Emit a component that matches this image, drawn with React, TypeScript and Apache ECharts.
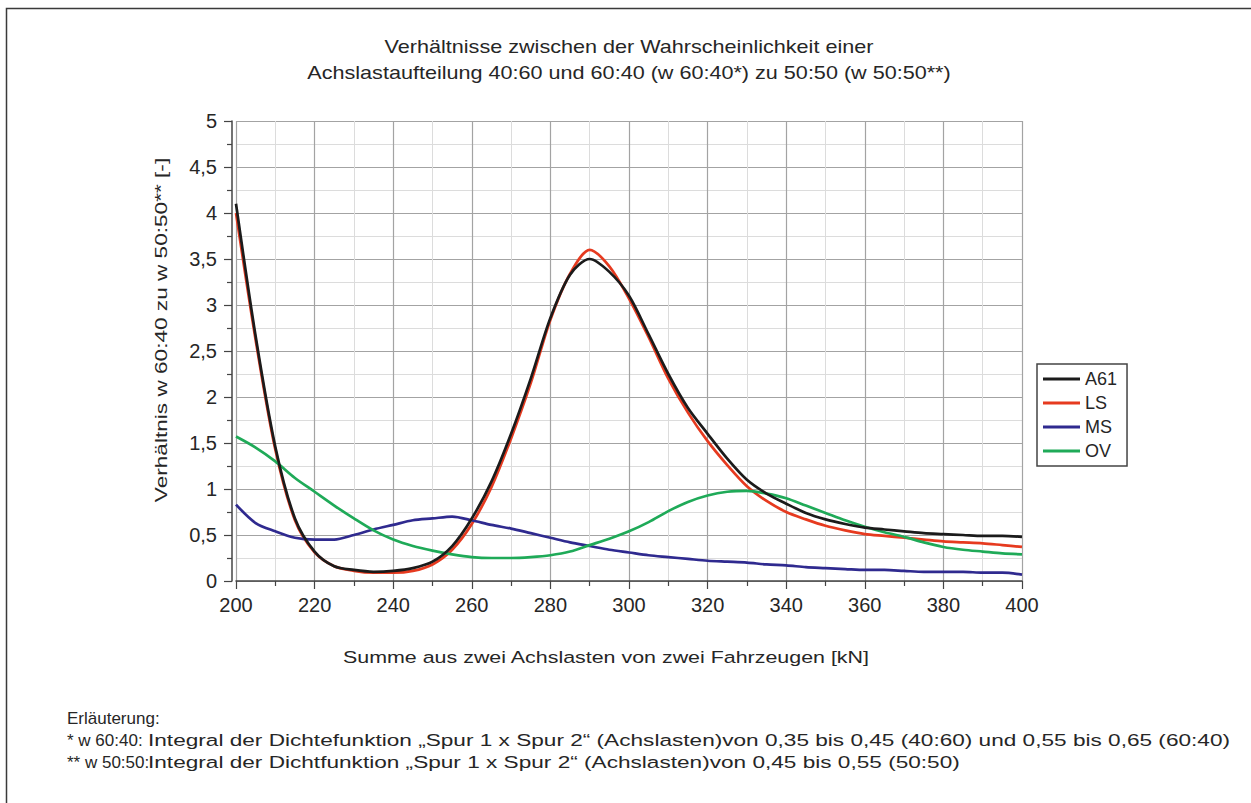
import React, { useEffect, useRef } from "react";
import * as echarts from "echarts";

// Summe der Achslasten [kN]
const kN = [
  200, 205, 210, 215, 220, 225, 230, 235, 240, 245, 250, 255, 260, 265, 270, 275, 280, 285, 290, 295,
  300, 305, 310, 315, 320, 325, 330, 335, 340, 345, 350, 355, 360, 365, 370, 375, 380, 385, 390, 395, 400,
];

const A61 = [
  4.1, 2.66, 1.46, 0.68, 0.32, 0.16, 0.12, 0.1, 0.11, 0.14, 0.21, 0.38, 0.68, 1.08, 1.6, 2.2, 2.86, 3.33, 3.5, 3.36,
  3.1, 2.68, 2.25, 1.88, 1.6, 1.33, 1.1, 0.95, 0.84, 0.74, 0.67, 0.62, 0.58, 0.56, 0.54, 0.52, 0.51, 0.5, 0.49, 0.49, 0.48,
];

const LS = [
  4.0, 2.62, 1.43, 0.66, 0.31, 0.16, 0.11, 0.09, 0.09, 0.11, 0.18, 0.34, 0.62, 1.02, 1.55, 2.15, 2.84, 3.34, 3.6, 3.42,
  3.07, 2.65, 2.2, 1.83, 1.52, 1.26, 1.03, 0.87, 0.75, 0.67, 0.6, 0.55, 0.51, 0.49, 0.47, 0.45, 0.43, 0.42, 0.41, 0.39, 0.37,
];

const MS = [
  0.83, 0.63, 0.54, 0.47, 0.45, 0.45, 0.5, 0.56, 0.61, 0.66, 0.68, 0.7, 0.66, 0.61, 0.57, 0.52, 0.47, 0.42, 0.38, 0.34,
  0.31, 0.28, 0.26, 0.24, 0.22, 0.21, 0.2, 0.18, 0.17, 0.15, 0.14, 0.13, 0.12, 0.12, 0.11, 0.1, 0.1, 0.1, 0.09, 0.09, 0.07,
];

const OV = [
  1.57, 1.45, 1.3, 1.12, 0.97, 0.82, 0.68, 0.55, 0.45, 0.38, 0.33, 0.29, 0.26, 0.25, 0.25, 0.26, 0.28, 0.32, 0.39, 0.46,
  0.54, 0.64, 0.76, 0.86, 0.93, 0.97, 0.98, 0.95, 0.9, 0.82, 0.74, 0.66, 0.59, 0.53, 0.48, 0.42, 0.37, 0.34, 0.32, 0.3, 0.29,
];

const seriesNames = ["A61", "LS", "MS", "OV"];
const seriesValues = [A61, LS, MS, OV];
const seriesColors = ["#1b1b1b", "#e63a1f", "#2f2a8f", "#1faa58"];

const titleLines = [
  "Verhältnisse zwischen der Wahrscheinlichkeit einer",
  "Achslastaufteilung 40:60 und 60:40 (w 60:40*) zu 50:50 (w 50:50**)",
];
const yAxisTitle = "Verhältnis w 60:40 zu w 50:50** [-]";
const xAxisTitle = "Summe aus zwei Achslasten von zwei Fahrzeugen [kN]";
const noteHeading = "Erläuterung:";
const noteKeys = ["* w 60:40:", "** w 50:50:"];
const noteTexts = [
  "Integral der Dichtefunktion „Spur 1 x Spur 2“ (Achslasten)von 0,35 bis 0,45 (40:60) und 0,55 bis 0,65 (60:40)",
  "Integral der Dichtfunktion „Spur 1 x Spur 2“ (Achslasten)von 0,45 bis 0,55 (50:50)",
];

const FONT = "'Liberation Sans', Arial, sans-serif";
const TXT = "#262626";

// the lettering of this figure is set in a wide face; widen the free texts accordingly
const wideText = (
  text: string,
  x: number,
  y: number,
  fontSize: number,
  scaleX: number,
  align: "left" | "center" = "left",
  rotation = 0
) => ({
  type: "text",
  x,
  y,
  rotation,
  scaleX,
  silent: true,
  style: {
    text,
    fontSize,
    fontFamily: FONT,
    fill: TXT,
    textAlign: align,
    textVerticalAlign: "middle",
  },
});

export default function App() {
  const ref = useRef<HTMLDivElement>(null);

  useEffect(() => {
    if (!ref.current) return;
    const chart = echarts.init(ref.current, undefined, { renderer: "svg" });

    const series = seriesNames.map((name, i) => ({
      name,
      type: "line",
      data: kN.map((x, j) => [x, seriesValues[i][j]]),
      showSymbol: false,
      smooth: 0.3,
      lineStyle: { width: 2.7, color: seriesColors[i] },
      itemStyle: { color: seriesColors[i] },
      z: i === 0 ? 4 : 3,
    }));

    chart.setOption({
      animation: false,
      backgroundColor: "#ffffff",
      textStyle: { fontFamily: FONT },
      legend: {
        orient: "vertical",
        left: 1037,
        top: 364,
        data: seriesNames,
        icon: "rect",
        itemWidth: 37,
        itemHeight: 3,
        itemGap: 6,
        padding: [6, 10, 6, 6],
        borderColor: "#444",
        borderWidth: 1.5,
        backgroundColor: "#fff",
        textStyle: { fontSize: 18, color: TXT, fontFamily: FONT, lineHeight: 17 },
      },
      grid: { left: 236, right: 229, top: 121, bottom: 222, containLabel: false },
      xAxis: {
        type: "value",
        min: 200,
        max: 400,
        interval: 20,
        axisLine: { show: true, onZero: false, lineStyle: { color: "#444", width: 1.5 } },
        axisTick: { show: true, length: 8, lineStyle: { color: "#444", width: 1.2 } },
        minorTick: { show: true, splitNumber: 2, length: 5, lineStyle: { color: "#444", width: 1.2 } },
        axisLabel: { fontSize: 20, color: TXT, margin: 14, fontFamily: FONT },
        splitLine: { show: true, lineStyle: { color: "#a3a3a3", width: 1.2 } },
        minorSplitLine: { show: true, lineStyle: { color: "#dcdcdc", width: 1 } },
      },
      yAxis: {
        type: "value",
        min: 0,
        max: 5,
        interval: 0.5,
        offset: 4,
        axisLine: { show: true, lineStyle: { color: "#444", width: 1.5 } },
        axisTick: { show: true, length: 8, lineStyle: { color: "#444", width: 1.2 } },
        minorTick: { show: true, splitNumber: 2, length: 5, lineStyle: { color: "#444", width: 1.2 } },
        axisLabel: {
          fontSize: 20,
          color: TXT,
          margin: 15,
          fontFamily: FONT,
          formatter: (v: number) => String(v).replace(".", ","),
        },
        splitLine: { show: true, lineStyle: { color: "#a3a3a3", width: 1.2 } },
        minorSplitLine: { show: true, lineStyle: { color: "#dcdcdc", width: 1 } },
      },
      series,
      graphic: [
        {
          type: "rect",
          shape: { x: 6.5, y: 8.5, width: 1300, height: 850 },
          style: { fill: "none", stroke: "#3a3a3a", lineWidth: 1.5 },
          silent: true,
        },
        wideText(titleLines[0], 629, 47, 18, 1.2, "center"),
        wideText(titleLines[1], 629, 73, 18, 1.2, "center"),
        wideText(yAxisTitle, 161, 330, 17, 1.33, "center", Math.PI / 2),
        wideText(xAxisTitle, 606, 657, 17, 1.26, "center"),
        wideText(noteHeading, 67, 718, 17, 1.0),
        ...noteKeys.map((k, i) => wideText(k, 67, 740 + i * 22, 17, 1.0)),
        ...noteTexts.map((t, i) => wideText(t, 148, 740 + i * 22, 17, 1.33)),
      ],
    });

    return () => chart.dispose();
  }, []);

  return (
    <div
      ref={ref}
      style={{ position: "absolute", left: 0, top: 0, width: 1251, height: 803, background: "#fff" }}
    />
  );
}
